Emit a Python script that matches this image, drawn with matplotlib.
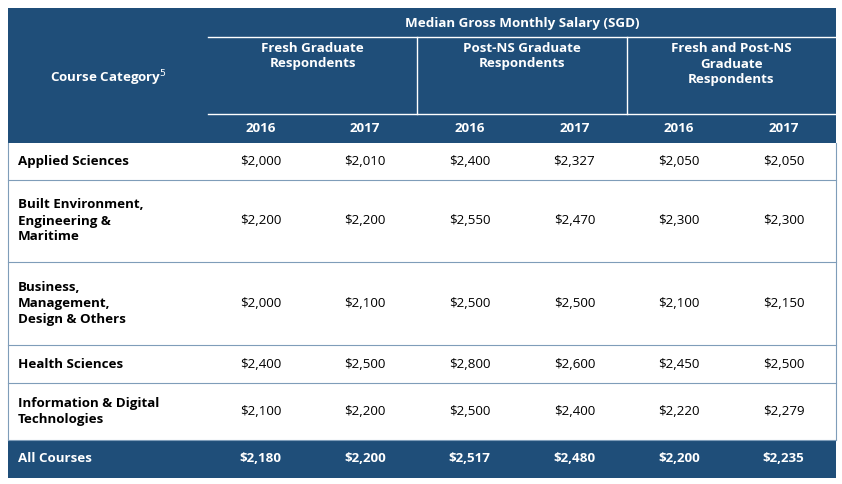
import matplotlib.pyplot as plt
from matplotlib.patches import Rectangle

plt.rcParams['font.family'] = ['Open Sans', 'DejaVu Sans']

categories = ['Applied Sciences',
              'Built Environment,\nEngineering &\nMaritime',
              'Business,\nManagement,\nDesign & Others',
              'Health Sciences',
              'Information & Digital\nTechnologies']
fresh_2016 = [2000, 2200, 2000, 2400, 2100]
fresh_2017 = [2010, 2200, 2100, 2500, 2200]
postns_2016 = [2400, 2550, 2500, 2800, 2500]
postns_2017 = [2327, 2470, 2500, 2600, 2400]
both_2016 = [2050, 2300, 2100, 2450, 2220]
both_2017 = [2050, 2300, 2150, 2500, 2279]
all_courses = [2180, 2200, 2517, 2480, 2200, 2235]
groups = ['Fresh Graduate\nRespondents', 'Post-NS Graduate\nRespondents',
          'Fresh and Post-NS\nGraduate\nRespondents']
years = ['2016', '2017']

navy = '#1F4E79'
W, H = 842, 484
fig = plt.figure(figsize=(W / 100, H / 100), dpi=100)
ax = fig.add_axes([0, 0, 1, 1])
ax.set_xlim(0, W)
ax.set_ylim(H, 0)
ax.axis('off')

left, right = 8, 836
col_x = [208 + i * (right - 208) / 6 for i in range(7)]
row_y = [143, 180, 262, 345, 383, 440, 478]
fs = 9.6

# header
ax.add_patch(Rectangle((left, 8), right - left, 135, color=navy, lw=0))
ax.plot([col_x[0], right], [37, 37], color='white', lw=1)
ax.plot([col_x[0], right], [114, 114], color='white', lw=1)
for x in (col_x[2], col_x[4]):
    ax.plot([x, x], [37, 114], color='white', lw=1)
ax.text((col_x[0] + right) / 2, 23, 'Median Gross Monthly Salary (SGD)', color='white',
        fontsize=fs, fontweight='bold', ha='center', va='center')
ax.text(108, 78, 'Course Category$^5$', color='white', fontsize=fs,
        fontweight='bold', ha='center', va='center')
for g, name in enumerate(groups):
    xc = (col_x[2 * g] + col_x[2 * g + 2]) / 2
    ax.text(xc, 42, name, color='white', fontsize=fs, fontweight='bold',
            ha='center', va='top', linespacing=1.25)
    for k, yr in enumerate(years):
        xc = (col_x[2 * g + k] + col_x[2 * g + k + 1]) / 2
        ax.text(xc, 129, yr, color='white', fontsize=fs, fontweight='bold',
                ha='center', va='center')

# body
series = [fresh_2016, fresh_2017, postns_2016, postns_2017, both_2016, both_2017]
for i, cat in enumerate(categories):
    y0, y1 = row_y[i], row_y[i + 1]
    yc = (y0 + y1) / 2
    ax.text(18, yc, cat, fontsize=fs, fontweight='bold', ha='left', va='center',
            linespacing=1.3, color='black')
    for j, s in enumerate(series):
        xc = (col_x[j] + col_x[j + 1]) / 2
        ax.text(xc, yc, f'${s[i]:,}', fontsize=fs, ha='center', va='center', color='black')
    ax.plot([left, right], [y1, y1], color='#7F9DB9', lw=0.8)
ax.plot([left, left], [row_y[0], row_y[5]], color='#7F9DB9', lw=0.8)
ax.plot([right, right], [row_y[0], row_y[5]], color='#7F9DB9', lw=0.8)

# total row
ax.add_patch(Rectangle((left, row_y[5]), right - left, row_y[6] - row_y[5], color=navy, lw=0))
yc = (row_y[5] + row_y[6]) / 2
ax.text(18, yc, 'All Courses', color='white', fontsize=fs, fontweight='bold', ha='left', va='center')
for j, v in enumerate(all_courses):
    xc = (col_x[j] + col_x[j + 1]) / 2
    ax.text(xc, yc, f'${v:,}', color='white', fontsize=fs, fontweight='bold',
            ha='center', va='center')

fig.savefig('out.png', dpi=100)
